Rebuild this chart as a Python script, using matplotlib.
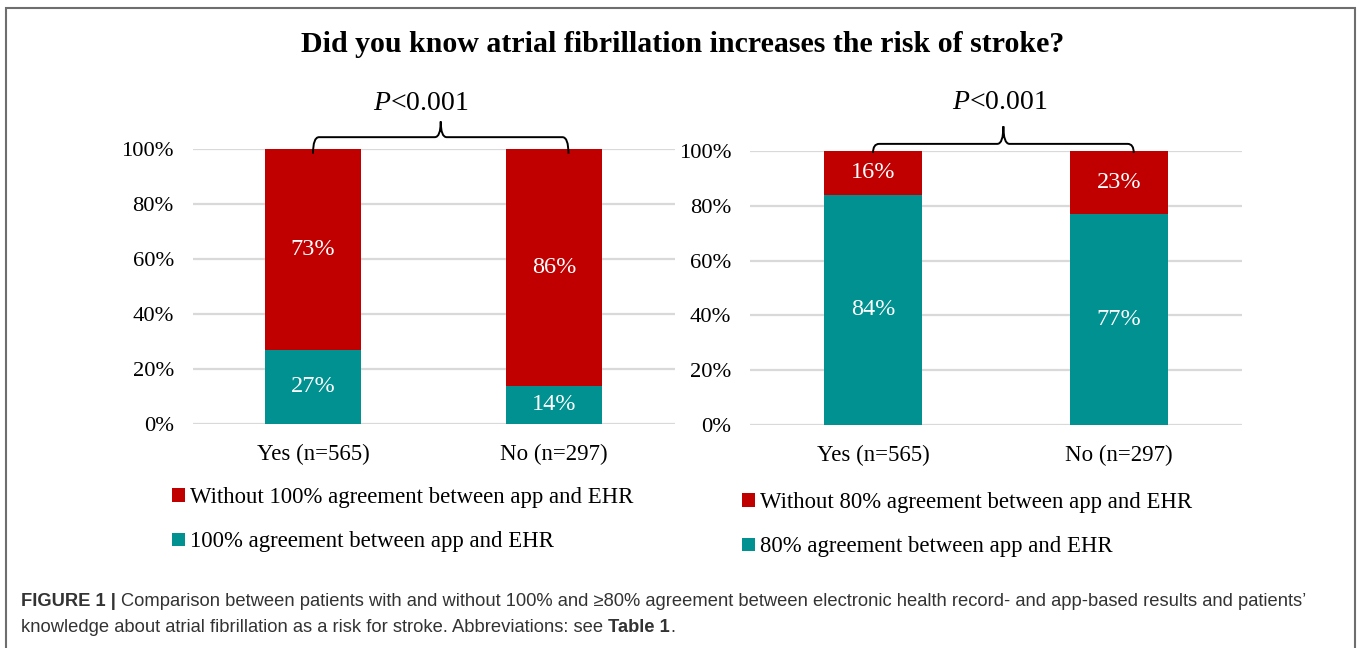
import matplotlib
matplotlib.use("Agg")
import matplotlib.pyplot as plt
from matplotlib.patches import Patch, PathPatch, Rectangle
from matplotlib.path import Path

# ---------------- data ----------------
categories = ["Yes (n=565)", "No (n=297)"]
left_agree = [27, 14]          # 100% agreement
left_without = [73, 86]        # without 100% agreement
right_agree = [84, 77]         # 80% agreement
right_without = [16, 23]       # without 80% agreement
yticks = [0, 20, 40, 60, 80, 100]
ytick_labels = ["0%", "20%", "40%", "60%", "80%", "100%"]
left_legend = ["Without 100% agreement between app and EHR", "100% agreement between app and EHR"]
right_legend = ["Without 80% agreement between app and EHR", "80% agreement between app and EHR"]
p_text = "<0.001"
title = "Did you know atrial fibrillation increases the risk of stroke?"

RED = "#C00000"
TEAL = "#009190"
GRID = "#D9D9D9"

plt.rcParams["font.family"] = ["Liberation Serif", "DejaVu Serif"]
plt.rcParams["mathtext.fontset"] = "custom"
plt.rcParams["mathtext.it"] = "Liberation Serif:italic"
plt.rcParams["mathtext.rm"] = "Liberation Serif"

W, H = 1358, 648
fig = plt.figure(figsize=(W / 100, H / 100), dpi=100)
fig.patch.set_facecolor("white")


def px_axes(x0, x1, ytop, ybot):
    return fig.add_axes([x0 / W, (H - ybot) / H, (x1 - x0) / W, (ybot - ytop) / H])


def brace(ax, x0, x1, y_end, y_top, y_cusp, dx=0.025):
    xm = (x0 + x1) / 2
    verts = [
        (x0, y_end), (x0, y_top), (x0 + dx, y_top),
        (xm - dx, y_top), (xm, y_top), (xm, y_cusp),
        (xm, y_top), (xm + dx, y_top),
        (x1 - dx, y_top), (x1, y_top), (x1, y_end),
    ]
    codes = [Path.MOVETO, Path.CURVE3, Path.CURVE3,
             Path.LINETO, Path.CURVE3, Path.CURVE3,
             Path.CURVE3, Path.CURVE3,
             Path.LINETO, Path.CURVE3, Path.CURVE3]
    ax.add_patch(PathPatch(Path(verts, codes), fill=False, lw=1.4,
                           edgecolor="black", clip_on=False, zorder=5))


def panel(ax, agree, without, legend_labels, legend_anchor, brace_params):
    x = list(range(len(categories)))
    ax.bar(x, agree, width=0.4, color=TEAL, zorder=3)
    ax.bar(x, without, width=0.4, bottom=agree, color=RED, zorder=3)
    for xi, a, w in zip(x, agree, without):
        ax.text(xi, a / 2, f"{a}%", ha="center", va="center", color="white", fontsize=17.5, zorder=4)
        ax.text(xi, a + w / 2, f"{w}%", ha="center", va="center", color="white", fontsize=17.5, zorder=4)
    ax.set_xlim(-0.5, 1.5)
    ax.set_ylim(0, 100)
    ax.set_yticks(yticks)
    ax.set_yticklabels(ytick_labels, fontsize=16.2)
    ax.set_xticks(x)
    ax.set_xticklabels(categories, fontsize=16.5)
    ax.tick_params(axis="both", length=0)
    ax.tick_params(axis="y", pad=13.5)
    ax.tick_params(axis="x", pad=14)
    ax.grid(axis="y", color=GRID, lw=1.6, zorder=0)
    ax.set_axisbelow(True)
    for s in ax.spines.values():
        s.set_visible(False)
    y_end, y_top, y_cusp, y_text, x_text = brace_params
    brace(ax, 0, 1.06, y_end, y_top, y_cusp)
    ax.text(x_text, y_text, r"$P$" + p_text, ha="center", va="center", fontsize=20, clip_on=False)
    handles = [Patch(facecolor=RED), Patch(facecolor=TEAL)]
    ax.legend(handles, legend_labels, loc="upper left", bbox_to_anchor=legend_anchor,
              bbox_transform=fig.transFigure, frameon=False, fontsize=16.4,
              handlelength=0.55, handleheight=0.55, handletextpad=0.25,
              labelspacing=1.03, borderpad=0, borderaxespad=0)


axL = px_axes(192.5, 674.5, 149, 424)
axR = px_axes(750, 1242, 151, 425)
panel(axL, left_agree, left_without, left_legend, (172 / W, 1 - 487 / H), (98.3, 104.3, 110, 116.4, 0.447))
panel(axR, right_agree, right_without, right_legend, (742 / W, 1 - 492 / H), (99.3, 102.6, 109, 117.6, 0.514))

fig.text(683 / W, 1 - 45 / H, title, ha="center", va="center", fontsize=21.5, fontweight="bold")

# caption
cap_color = "#333333"
cap_fam = ["Liberation Sans", "DejaVu Sans"]
cap_fs = 13.2
t1 = fig.text(21 / W, 1 - 601 / H, "FIGURE 1 | ", ha="left", va="center", fontsize=cap_fs,
              fontweight="bold", color=cap_color, family=cap_fam)
fig.canvas.draw()
bb1 = t1.get_window_extent()
fig.text(bb1.x1 / W, 1 - 601 / H,
         "Comparison between patients with and without 100% and \u226580% agreement between electronic health record- and app-based results and patients\u2019",
         ha="left", va="center", fontsize=cap_fs, color=cap_color, family=cap_fam)
t2 = fig.text(21 / W, 1 - 627 / H,
              "knowledge about atrial fibrillation as a risk for stroke. Abbreviations: see ",
              ha="left", va="center", fontsize=cap_fs, color=cap_color, family=cap_fam)
fig.canvas.draw()
bb = t2.get_window_extent()
t3 = fig.text(bb.x1 / W, 1 - 627 / H, "Table 1", ha="left", va="center", fontsize=cap_fs,
              fontweight="bold", color=cap_color, family=cap_fam)
fig.canvas.draw()
bb3 = t3.get_window_extent()
fig.text(bb3.x1 / W, 1 - 627 / H, ".", ha="left", va="center", fontsize=cap_fs,
         color=cap_color, family=cap_fam)

# frame
fig.add_artist(Rectangle((6 / W, -0.05), (1355 - 6) / W, 1.05 - 8 / H,
                         transform=fig.transFigure, fill=False, edgecolor="#6E6E6E", lw=1.5))

fig.savefig("out.png", dpi=100)
